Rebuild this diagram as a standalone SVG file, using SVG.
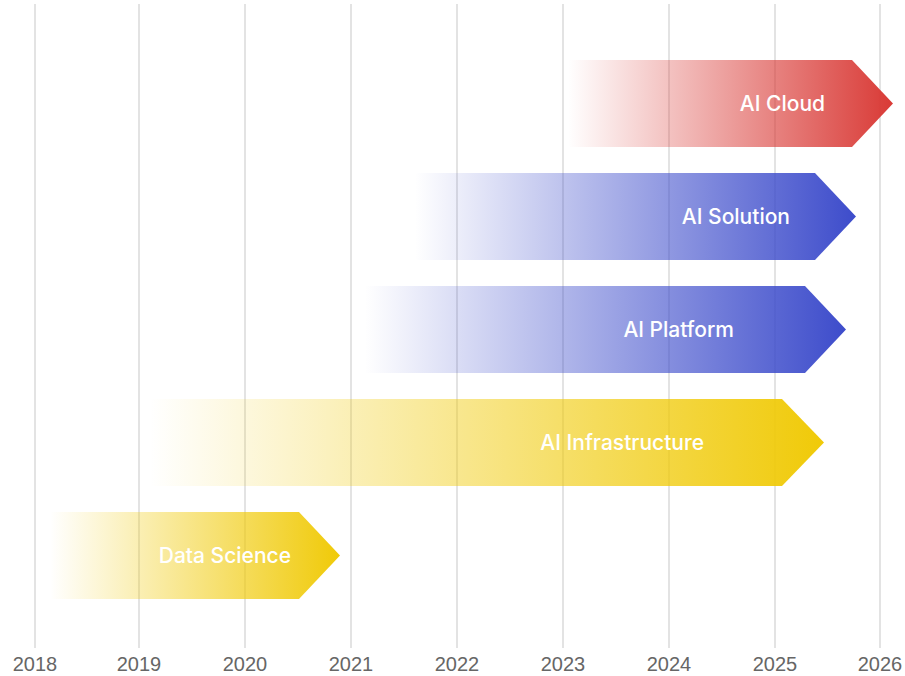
<svg xmlns="http://www.w3.org/2000/svg" width="905" height="676" viewBox="0 0 905 676">
<defs>
<linearGradient id="gRed" x1="0" y1="0" x2="1" y2="0"><stop offset="0" stop-color="#d93a36" stop-opacity="0"/><stop offset="1" stop-color="#d93a36" stop-opacity="1"/></linearGradient>
<linearGradient id="gBlue" x1="0" y1="0" x2="1" y2="0"><stop offset="0" stop-color="#3d4ccb" stop-opacity="0"/><stop offset="1" stop-color="#3d4ccb" stop-opacity="1"/></linearGradient>
<linearGradient id="gYellow" x1="0" y1="0" x2="1" y2="0"><stop offset="0" stop-color="#f0ca08" stop-opacity="0"/><stop offset="1" stop-color="#f0ca08" stop-opacity="1"/></linearGradient>
</defs>
<style>
.grid line{stroke:#e3e3e3;stroke-width:2}
.yr{font-family:"Liberation Sans",Arial,sans-serif;font-size:20px;fill:#666;text-anchor:middle}
.lbl{font-family:Inter,"Noto Sans",sans-serif;font-size:21px;font-weight:500;fill:#fff;text-anchor:end}
</style>
<rect width="905" height="676" fill="#fff"/>
<g class="grid">
<line x1="35" y1="4" x2="35" y2="648"/>
<line x1="139" y1="4" x2="139" y2="648"/>
<line x1="245" y1="4" x2="245" y2="648"/>
<line x1="351" y1="4" x2="351" y2="648"/>
<line x1="457" y1="4" x2="457" y2="648"/>
<line x1="563" y1="4" x2="563" y2="648"/>
<line x1="669" y1="4" x2="669" y2="648"/>
<line x1="775" y1="4" x2="775" y2="648"/>
<line x1="880" y1="4" x2="880" y2="648"/>
</g>
<g class="years">
<text class="yr" x="35" y="671">2018</text>
<text class="yr" x="139" y="671">2019</text>
<text class="yr" x="245" y="671">2020</text>
<text class="yr" x="351" y="671">2021</text>
<text class="yr" x="457" y="671">2022</text>
<text class="yr" x="563" y="671">2023</text>
<text class="yr" x="669" y="671">2024</text>
<text class="yr" x="775" y="671">2025</text>
<text class="yr" x="880" y="671">2026</text>
</g>
<g id="ai-cloud">
<polygon points="568,60 852,60 893,103.5 852,147 568,147" fill="url(#gRed)"/>
<text class="lbl" x="825" y="111">AI Cloud</text>
</g>
<g id="ai-solution">
<polygon points="415,173 815,173 856,216.5 815,260 415,260" fill="url(#gBlue)"/>
<text class="lbl" x="790" y="224">AI Solution</text>
</g>
<g id="ai-platform">
<polygon points="365,286 805,286 846,329.5 805,373 365,373" fill="url(#gBlue)"/>
<text class="lbl" x="734" y="337">AI Platform</text>
</g>
<g id="ai-infrastructure">
<polygon points="150,399 782,399 824,442.5 782,486 150,486" fill="url(#gYellow)"/>
<text class="lbl" x="704" y="450">AI Infrastructure</text>
</g>
<g id="data-science">
<polygon points="50,512 299,512 340,555.5 299,599 50,599" fill="url(#gYellow)"/>
<text class="lbl" x="291" y="563">Data Science</text>
</g>
<g id="connectors"/>
</svg>
